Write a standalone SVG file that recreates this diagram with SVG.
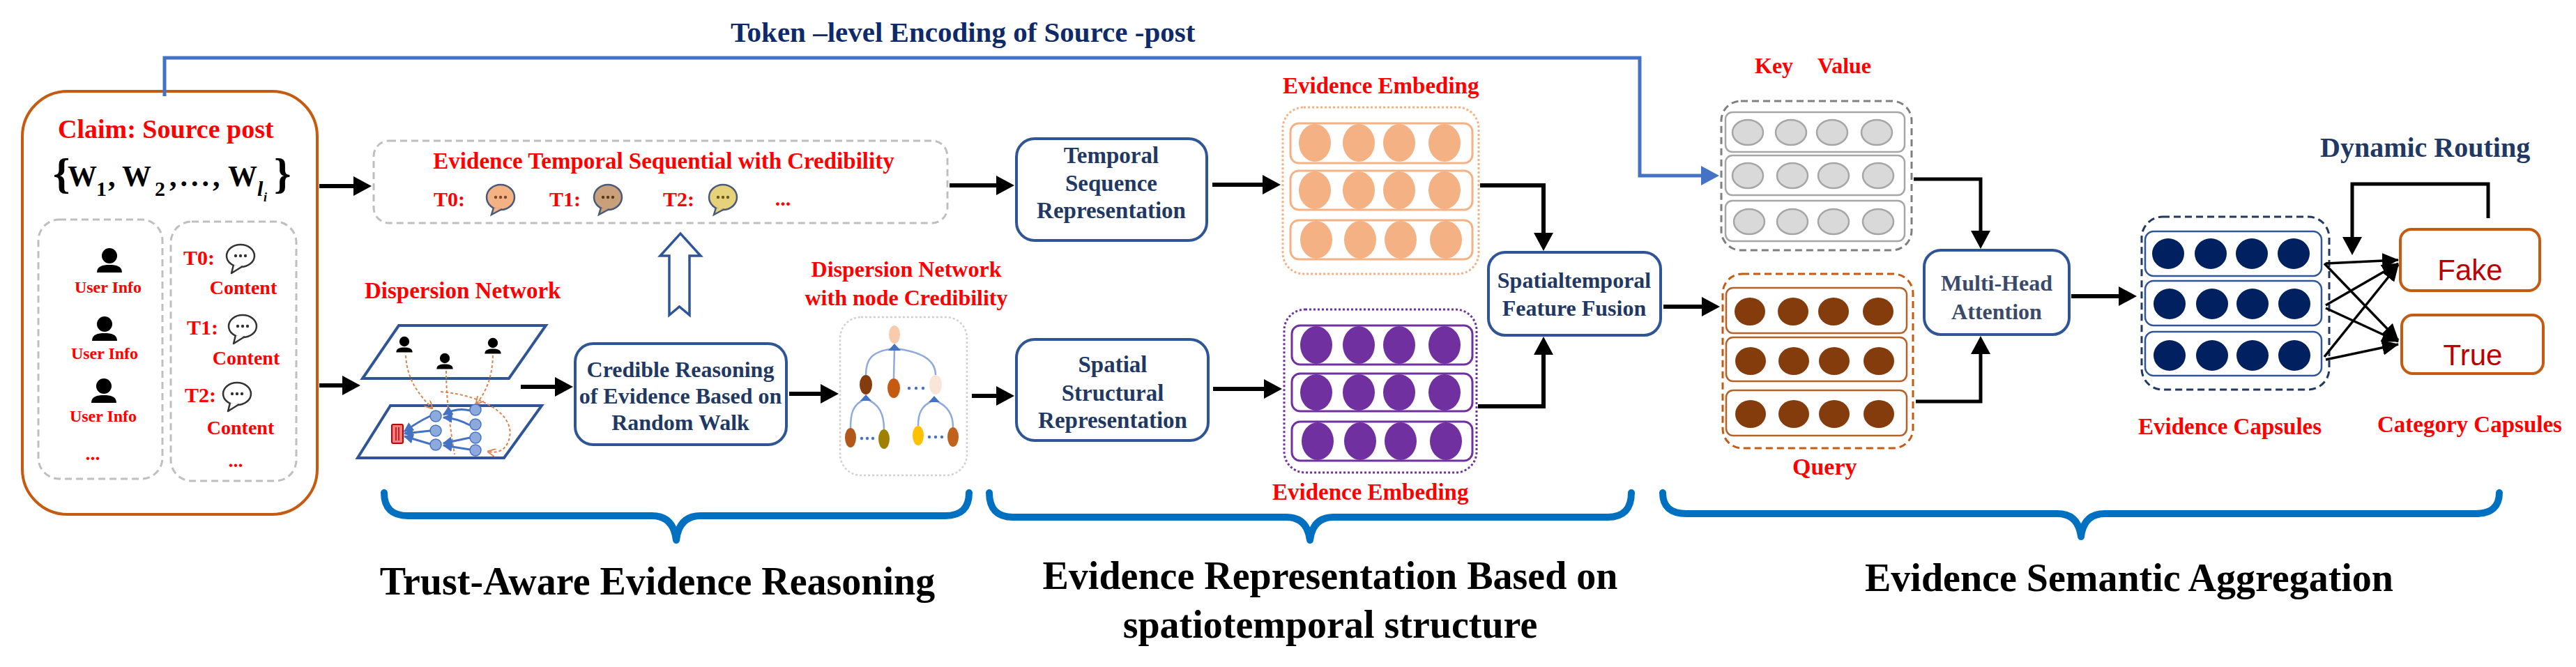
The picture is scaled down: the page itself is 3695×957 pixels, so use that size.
<svg xmlns="http://www.w3.org/2000/svg" width="3695" height="957" viewBox="0 0 3695 957">
<style>
text{font-family:"Liberation Serif","Times New Roman",serif;font-weight:bold}
.red{fill:#ff0000}
.nav{fill:#1f3864}
.blk{fill:#000}
.ttl{font-size:56px;fill:#000}
.bbox{fill:#fff;stroke:#2f5597;stroke-width:4}
.gdash{fill:none;stroke:#bfbfbf;stroke-width:3;stroke-dasharray:10 6}
.conn{fill:none;stroke:#000;stroke-width:6}
.thin{fill:none;stroke:#000;stroke-width:3.5}
.brace{fill:none;stroke:#0070c0;stroke-width:10;stroke-linecap:round;stroke-linejoin:round}
.orow{fill:none;stroke:#f4b183;stroke-width:3}
.prow{fill:none;stroke:#7030a0;stroke-width:3}
.grow{fill:none;stroke:#a6a6a6;stroke-width:2.5}
.qrow{fill:none;stroke:#b4622a;stroke-width:2.5}
.crow{fill:none;stroke:#2f5597;stroke-width:2.5}
.odash{fill:none;stroke:#d9844e;stroke-width:2;stroke-dasharray:4 3}
.barr{fill:none;stroke:#4472c4;stroke-width:3}
.tedge{fill:none;stroke:#8faadc;stroke-width:2.5}
</style>
<defs>
<marker id="ah" viewBox="0 0 26 28" refX="1" refY="14" markerWidth="26" markerHeight="28" markerUnits="userSpaceOnUse" orient="auto"><path d="M0,0 L26,14 L0,28 Z" fill="#000"/></marker>
<marker id="ahb" viewBox="0 0 26 28" refX="1" refY="14" markerWidth="26" markerHeight="28" markerUnits="userSpaceOnUse" orient="auto"><path d="M0,0 L26,14 L0,28 Z" fill="#4472c4"/></marker>
<marker id="ahs" viewBox="0 0 24 22" refX="23" refY="11" markerWidth="24" markerHeight="22" markerUnits="userSpaceOnUse" orient="auto"><path d="M0,0 L24,11 L0,22 Z" fill="#000"/></marker>
<marker id="oah" viewBox="0 0 10 10" refX="9" refY="5" markerWidth="12" markerHeight="12" markerUnits="userSpaceOnUse" orient="auto"><path d="M0,0 L10,5 L0,10" fill="none" stroke="#d9844e" stroke-width="1.5"/></marker>
<marker id="bah" viewBox="0 0 10 10" refX="9" refY="5" markerWidth="14" markerHeight="14" markerUnits="userSpaceOnUse" orient="auto"><path d="M0,0 L10,5 L0,10 Z" fill="#4472c4"/></marker>
<g id="user"><circle cx="0" cy="0" r="11" fill="#000"/><path d="M-18,24 C-18,15 -10,13 0,13 C10,13 18,15 18,24 Z" fill="#000"/></g>
<g id="bub"><ellipse cx="0" cy="0" rx="20" ry="16" fill="#fff" stroke="#333" stroke-width="2.5"/><path d="M-10,13 L-13,25 L3,15" fill="#fff" stroke="#333" stroke-width="2.5" stroke-linejoin="round"/><circle cx="-7" cy="0" r="2.2" fill="#333"/><circle cx="0" cy="0" r="2.2" fill="#333"/><circle cx="7" cy="0" r="2.2" fill="#333"/></g>
</defs>
<rect width="3695" height="957" fill="#fff"/>

<!-- Source post -->
<g id="source-post">
<rect x="32" y="131" width="423" height="607" rx="65" fill="#fff" stroke="#c55a11" stroke-width="4"/>
<text x="83" y="198" font-size="38" class="red">Claim: Source post</text>
<g class="blk">
<text x="76" y="270" font-size="62" font-weight="normal">{</text>
<text x="97" y="267" font-size="42">W</text>
<text x="138" y="281" font-size="30" font-weight="normal">1</text>
<text x="155" y="267" font-size="42">,</text>
<text x="175" y="267" font-size="42">W</text>
<text x="222" y="281" font-size="30" font-weight="normal">2</text>
<text x="243" y="267" font-size="42" letter-spacing="5">,...,</text>
<text x="327" y="267" font-size="42">W</text>
<text x="369" y="281" font-size="30" font-weight="normal" font-style="italic">l</text>
<text x="378" y="289" font-size="18" font-weight="normal" font-style="italic">i</text>
<text x="393" y="270" font-size="62" font-weight="normal">}</text>
</g>
<rect x="55" y="315" width="178" height="372" rx="30" class="gdash"/>
<rect x="245" y="318" width="180" height="372" rx="30" class="gdash"/>
<use href="#user" x="157" y="367"/>
<text x="155" y="420" font-size="24" class="red" text-anchor="middle">User Info</text>
<use href="#user" x="150" y="465"/>
<text x="150" y="515" font-size="24" class="red" text-anchor="middle">User Info</text>
<use href="#user" x="149" y="554"/>
<text x="148" y="605" font-size="24" class="red" text-anchor="middle">User Info</text>
<text x="133" y="660" font-size="28" class="red" text-anchor="middle">...</text>
<text x="263" y="380" font-size="30" class="red">T0:</text>
<use href="#bub" x="345" y="367"/>
<text x="349" y="422" font-size="28" class="red" text-anchor="middle">Content</text>
<text x="268" y="480" font-size="30" class="red">T1:</text>
<use href="#bub" x="348" y="468"/>
<text x="353" y="523" font-size="28" class="red" text-anchor="middle">Content</text>
<text x="265" y="577" font-size="30" class="red">T2:</text>
<use href="#bub" x="340" y="565"/>
<text x="345" y="623" font-size="28" class="red" text-anchor="middle">Content</text>
<text x="338" y="670" font-size="28" class="red" text-anchor="middle">...</text>
</g>

<text x="1048" y="60" font-size="41" fill="#0e2a6b">Token –level Encoding of Source -post</text>

<!-- Evidence temporal sequential -->
<g id="evidence-temporal">
<rect x="536" y="202" width="823" height="118" rx="22" class="gdash"/>
<text x="952" y="242" font-size="33" class="red" text-anchor="middle">Evidence Temporal Sequential with Credibility</text>
<text x="622" y="296" font-size="30" class="red">T0:</text>
<g transform="translate(718,283)"><ellipse rx="20" ry="18" fill="#f4b183" stroke="#4a5a7a" stroke-width="2.5"/><path d="M-10,15 L-13,25 L2,17" fill="#f4b183" stroke="#4a5a7a" stroke-width="2.5"/><circle cx="-7" r="2.2" fill="#7a4a2a"/><circle r="2.2" fill="#7a4a2a"/><circle cx="7" r="2.2" fill="#7a4a2a"/></g>
<text x="788" y="296" font-size="30" class="red">T1:</text>
<g transform="translate(872,283)"><ellipse rx="20" ry="18" fill="#c9a07a" stroke="#4a5a7a" stroke-width="2.5"/><path d="M-10,15 L-13,25 L2,17" fill="#c9a07a" stroke="#4a5a7a" stroke-width="2.5"/><circle cx="-7" r="2.2" fill="#5a3a1a"/><circle r="2.2" fill="#5a3a1a"/><circle cx="7" r="2.2" fill="#5a3a1a"/></g>
<text x="951" y="296" font-size="30" class="red">T2:</text>
<g transform="translate(1037,283)"><ellipse rx="20" ry="18" fill="#e6d27a" stroke="#4a5a7a" stroke-width="2.5"/><path d="M-10,15 L-13,25 L2,17" fill="#e6d27a" stroke="#4a5a7a" stroke-width="2.5"/><circle cx="-7" r="2.2" fill="#6a5a1a"/><circle r="2.2" fill="#6a5a1a"/><circle cx="7" r="2.2" fill="#6a5a1a"/></g>
<text x="1123" y="295" font-size="30" class="red" text-anchor="middle">...</text>
</g>

<!-- Dispersion network -->
<g id="dispersion-network">
<text x="523" y="428" font-size="33" class="red">Dispersion Network</text>
<polygon points="572,467 783,467 730,543 520,543" fill="none" stroke="#2f5597" stroke-width="4"/>
<polygon points="560,582 777,582 723,657 513,657" fill="none" stroke="#2f5597" stroke-width="4"/>
<use href="#user" transform="translate(580,490) scale(0.65)"/>
<use href="#user" transform="translate(638,514) scale(0.65)"/>
<use href="#user" transform="translate(707,492) scale(0.65)"/>
<path d="M582,510 C584,545 600,565 620,586" class="odash" marker-end="url(#oah)"/>
<path d="M640,532 C640,570 645,610 652,652" class="odash"/>
<path d="M707,510 C706,545 695,565 683,580" class="odash" marker-end="url(#oah)"/>
<path d="M632,562 C700,568 745,600 728,636 C722,648 712,650 700,648" class="odash" marker-end="url(#oah)"/>
<path d="M674,589 Q655,584 636,595" class="barr" marker-end="url(#bah)"/>
<path d="M674,610 Q655,600 636,599" class="barr" marker-end="url(#bah)"/>
<path d="M674,628 Q655,632 636,636" class="barr" marker-end="url(#bah)"/>
<path d="M674,645 Q655,642 636,639" class="barr" marker-end="url(#bah)"/>
<path d="M617,597 Q600,605 580,619" class="barr" marker-end="url(#bah)"/>
<path d="M617,618 Q600,620 580,622" class="barr" marker-end="url(#bah)"/>
<path d="M617,637 Q600,632 580,626" class="barr" marker-end="url(#bah)"/>
<g fill="#8ea9db" stroke="#4472c4" stroke-width="1.5">
<circle cx="625" cy="597" r="8"/><circle cx="625" cy="618" r="8"/><circle cx="625" cy="638" r="8"/>
<circle cx="682" cy="588" r="8"/><circle cx="682" cy="609" r="8"/><circle cx="682" cy="628" r="8"/><circle cx="682" cy="646" r="8"/>
</g>
<rect x="562" y="609" width="16" height="27" rx="2" fill="#f08080" stroke="#c00000" stroke-width="2"/>
<line x1="568" y1="613" x2="568" y2="632" stroke="#c00000" stroke-width="1.5"/><line x1="572" y1="613" x2="572" y2="632" stroke="#c00000" stroke-width="1.5"/>
</g>

<!-- Credible reasoning -->
<g id="credible-reasoning">
<rect x="825" y="493" width="303" height="145" rx="26" class="bbox"/>
<text x="976" y="541" font-size="32" class="nav" text-anchor="middle">Credible Reasoning</text>
<text x="976" y="579" font-size="32" class="nav" text-anchor="middle">of Evidence Based on</text>
<text x="976" y="617" font-size="32" class="nav" text-anchor="middle">Random Walk</text>
</g>

<!-- Credibility tree -->
<g id="credibility-network">
<text x="1300" y="397" font-size="32" class="red" text-anchor="middle">Dispersion Network</text>
<text x="1300" y="438" font-size="32" class="red" text-anchor="middle">with node Credibility</text>
<rect x="1205" y="455" width="182" height="227" rx="30" fill="none" stroke="#d0d0d0" stroke-width="2.5" stroke-dasharray="3 3"/>
<path d="M1283,500 C1250,504 1242,515 1242,538" class="tedge"/>
<path d="M1283,500 L1282,543" class="tedge"/>
<path d="M1283,500 C1320,504 1342,515 1342,538" class="tedge"/>
<path d="M1242,572 C1222,580 1220,595 1220,614" class="tedge"/>
<path d="M1242,572 C1262,580 1268,595 1268,616" class="tedge"/>
<path d="M1340,574 C1320,582 1317,595 1317,611" class="tedge"/>
<path d="M1340,574 C1360,582 1367,595 1367,613" class="tedge"/>
<g fill="#4472c4">
<polygon points="1274,503 1292,503 1283,493"/>
<polygon points="1234,575 1250,575 1242,566"/>
<polygon points="1332,577 1348,577 1340,568"/>
<circle cx="1304" cy="557" r="2.2"/><circle cx="1314" cy="557" r="2.2"/><circle cx="1324" cy="557" r="2.2"/>
<circle cx="1236" cy="629" r="2.2"/><circle cx="1244" cy="629" r="2.2"/><circle cx="1252" cy="629" r="2.2"/>
<circle cx="1333" cy="627" r="2.2"/><circle cx="1342" cy="627" r="2.2"/><circle cx="1351" cy="627" r="2.2"/>
</g>
<ellipse cx="1283" cy="480" rx="8" ry="13" fill="#f8cbad"/>
<ellipse cx="1242" cy="552" rx="9" ry="14" fill="#843c0c"/>
<ellipse cx="1282" cy="557" rx="9" ry="14" fill="#c55a11"/>
<ellipse cx="1342" cy="552" rx="9" ry="14" fill="#fbe5d6"/>
<ellipse cx="1220" cy="628" rx="8" ry="14" fill="#b3581b"/>
<ellipse cx="1268" cy="630" rx="8" ry="14" fill="#a08000"/>
<ellipse cx="1317" cy="625" rx="8" ry="14" fill="#ffc000"/>
<ellipse cx="1367" cy="627" rx="8" ry="14" fill="#c0621c"/>
</g>

<!-- Representation boxes -->
<g id="temporal-representation">
<rect x="1458" y="199" width="273" height="146" rx="26" class="bbox"/>
<text x="1594" y="234" font-size="33" class="nav" text-anchor="middle">Temporal</text>
<text x="1594" y="274" font-size="33" class="nav" text-anchor="middle">Sequence</text>
<text x="1594" y="313" font-size="33" class="nav" text-anchor="middle">Representation</text>
</g>
<g id="spatial-representation">
<rect x="1458" y="487" width="275" height="145" rx="26" class="bbox"/>
<text x="1596" y="534" font-size="33" class="nav" text-anchor="middle">Spatial</text>
<text x="1596" y="575" font-size="33" class="nav" text-anchor="middle">Structural</text>
<text x="1596" y="614" font-size="33" class="nav" text-anchor="middle">Representation</text>
</g>

<!-- Evidence embeddings -->
<g id="temporal-embedding">
<text x="1840" y="134" font-size="33" class="red">Evidence Embeding</text>
<rect x="1840" y="154" width="281" height="239" rx="30" fill="none" stroke="#f4b183" stroke-width="3" stroke-dasharray="3 3"/>
<rect x="1851" y="177" width="261" height="57" rx="12" class="orow"/>
<rect x="1851" y="245" width="261" height="56" rx="12" class="orow"/>
<rect x="1851" y="316" width="261" height="56" rx="12" class="orow"/>
<g fill="#f4b183">
<ellipse cx="1886" cy="205" rx="23" ry="27"/><ellipse cx="1949" cy="205" rx="23" ry="27"/><ellipse cx="2007" cy="205" rx="23" ry="27"/><ellipse cx="2072" cy="205" rx="23" ry="27"/>
<ellipse cx="1886" cy="273" rx="23" ry="27"/><ellipse cx="1949" cy="273" rx="23" ry="27"/><ellipse cx="2007" cy="273" rx="23" ry="27"/><ellipse cx="2072" cy="273" rx="23" ry="27"/>
<ellipse cx="1888" cy="344" rx="23" ry="27"/><ellipse cx="1951" cy="344" rx="23" ry="27"/><ellipse cx="2009" cy="344" rx="23" ry="27"/><ellipse cx="2074" cy="344" rx="23" ry="27"/>
</g>
</g>
<g id="spatial-embedding">
<rect x="1842" y="444" width="276" height="234" rx="30" fill="none" stroke="#7030a0" stroke-width="3" stroke-dasharray="3 3"/>
<rect x="1853" y="467" width="259" height="56" rx="12" class="prow"/>
<rect x="1853" y="536" width="259" height="54" rx="12" class="prow"/>
<rect x="1853" y="605" width="259" height="56" rx="12" class="prow"/>
<g fill="#7030a0">
<ellipse cx="1888" cy="495" rx="23" ry="27"/><ellipse cx="1949" cy="495" rx="23" ry="27"/><ellipse cx="2007" cy="495" rx="23" ry="27"/><ellipse cx="2072" cy="495" rx="23" ry="27"/>
<ellipse cx="1888" cy="563" rx="23" ry="26"/><ellipse cx="1949" cy="563" rx="23" ry="26"/><ellipse cx="2007" cy="563" rx="23" ry="26"/><ellipse cx="2072" cy="563" rx="23" ry="26"/>
<ellipse cx="1890" cy="633" rx="23" ry="27"/><ellipse cx="1951" cy="633" rx="23" ry="27"/><ellipse cx="2009" cy="633" rx="23" ry="27"/><ellipse cx="2074" cy="633" rx="23" ry="27"/>
</g>
<text x="1825" y="717" font-size="33" class="red">Evidence Embeding</text>
</g>

<!-- Fusion -->
<g id="feature-fusion">
<rect x="2135" y="362" width="247" height="119" rx="24" class="bbox"/>
<text x="2258" y="413" font-size="32" class="nav" text-anchor="middle">Spatialtemporal</text>
<text x="2258" y="453" font-size="32" class="nav" text-anchor="middle">Feature Fusion</text>
</g>

<!-- Key / Value -->
<g id="key-value">
<text x="2517" y="105" font-size="32" class="red">Key</text>
<text x="2607" y="105" font-size="32" class="red">Value</text>
<rect x="2469" y="145" width="273" height="214" rx="28" fill="none" stroke="#7f7f7f" stroke-width="3" stroke-dasharray="10 6"/>
<rect x="2475" y="161" width="257" height="57" rx="10" class="grow"/>
<rect x="2475" y="223" width="257" height="57" rx="10" class="grow"/>
<rect x="2475" y="288" width="257" height="58" rx="10" class="grow"/>
<g fill="#d9d9d9" stroke="#a6a6a6" stroke-width="2.5">
<ellipse cx="2507" cy="190" rx="22" ry="18"/><ellipse cx="2569" cy="190" rx="22" ry="18"/><ellipse cx="2628" cy="190" rx="22" ry="18"/><ellipse cx="2692" cy="190" rx="22" ry="18"/>
<ellipse cx="2507" cy="252" rx="22" ry="18"/><ellipse cx="2571" cy="252" rx="22" ry="18"/><ellipse cx="2630" cy="252" rx="22" ry="18"/><ellipse cx="2694" cy="252" rx="22" ry="18"/>
<ellipse cx="2509" cy="318" rx="22" ry="18"/><ellipse cx="2571" cy="318" rx="22" ry="18"/><ellipse cx="2630" cy="318" rx="22" ry="18"/><ellipse cx="2694" cy="318" rx="22" ry="18"/>
</g>
</g>

<!-- Query -->
<g id="query">
<rect x="2471" y="393" width="273" height="250" rx="28" fill="none" stroke="#c55a11" stroke-width="3" stroke-dasharray="10 6"/>
<rect x="2476" y="413" width="259" height="65" rx="10" class="qrow"/>
<rect x="2476" y="484" width="259" height="63" rx="10" class="qrow"/>
<rect x="2476" y="560" width="259" height="65" rx="10" class="qrow"/>
<g fill="#843c0c">
<ellipse cx="2510" cy="447" rx="22" ry="20"/><ellipse cx="2572" cy="447" rx="22" ry="20"/><ellipse cx="2630" cy="447" rx="22" ry="20"/><ellipse cx="2694" cy="447" rx="22" ry="20"/>
<ellipse cx="2511" cy="518" rx="22" ry="20"/><ellipse cx="2573" cy="518" rx="22" ry="20"/><ellipse cx="2631" cy="518" rx="22" ry="20"/><ellipse cx="2695" cy="518" rx="22" ry="20"/>
<ellipse cx="2511" cy="594" rx="22" ry="20"/><ellipse cx="2573" cy="594" rx="22" ry="20"/><ellipse cx="2631" cy="594" rx="22" ry="20"/><ellipse cx="2695" cy="594" rx="22" ry="20"/>
</g>
<text x="2571" y="681" font-size="34" class="red">Query</text>
</g>

<!-- Multi-head attention -->
<g id="multi-head-attention">
<rect x="2760" y="359" width="208" height="121" rx="24" class="bbox"/>
<text x="2864" y="417" font-size="32" fill="#3b4a6b" text-anchor="middle">Multi-Head</text>
<text x="2864" y="458" font-size="32" fill="#3b4a6b" text-anchor="middle">Attention</text>
</g>

<!-- Evidence capsules -->
<g id="evidence-capsules">
<rect x="3072" y="311" width="269" height="248" rx="30" fill="none" stroke="#1f3864" stroke-width="3" stroke-dasharray="10 6"/>
<rect x="3077" y="332" width="253" height="64" rx="12" class="crow"/>
<rect x="3077" y="403" width="253" height="64" rx="12" class="crow"/>
<rect x="3077" y="476" width="253" height="63" rx="12" class="crow"/>
<g fill="#002060">
<ellipse cx="3110" cy="364" rx="23" ry="22"/><ellipse cx="3171" cy="364" rx="23" ry="22"/><ellipse cx="3230" cy="364" rx="23" ry="22"/><ellipse cx="3290" cy="364" rx="23" ry="22"/>
<ellipse cx="3112" cy="436" rx="23" ry="22"/><ellipse cx="3173" cy="436" rx="23" ry="22"/><ellipse cx="3231" cy="436" rx="23" ry="22"/><ellipse cx="3291" cy="436" rx="23" ry="22"/>
<ellipse cx="3112" cy="510" rx="23" ry="22"/><ellipse cx="3173" cy="510" rx="23" ry="22"/><ellipse cx="3231" cy="510" rx="23" ry="22"/><ellipse cx="3291" cy="510" rx="23" ry="22"/>
</g>
<text x="3067" y="623" font-size="33" class="red">Evidence Capsules</text>
</g>

<!-- Category capsules -->
<g id="fake">
<rect x="3443" y="329" width="200" height="88" rx="16" fill="#fff" stroke="#c55a11" stroke-width="4"/>
<text x="3543" y="402" font-size="42" fill="#c00000" text-anchor="middle" style="font-family:'Liberation Sans',Arial,sans-serif;font-weight:normal">Fake</text>
</g>
<g id="true">
<rect x="3445" y="452" width="203" height="84" rx="16" fill="#fff" stroke="#c55a11" stroke-width="4"/>
<text x="3547" y="524" font-size="42" fill="#c00000" text-anchor="middle" style="font-family:'Liberation Sans',Arial,sans-serif;font-weight:normal">True</text>
</g>
<text x="3410" y="620" font-size="33" class="red">Category Capsules</text>
<text x="3328" y="225" font-size="40" class="nav">Dynamic Routing</text>

<!-- Connectors -->
<g id="connectors">
<path d="M458,267 H508" class="conn" marker-end="url(#ah)"/>
<path d="M458,553 H492" class="conn" marker-end="url(#ah)"/>
<path d="M747,555 H797" class="conn" marker-end="url(#ah)"/>
<path d="M1132,565 H1178" class="conn" marker-end="url(#ah)"/>
<path d="M1362,266 H1430" class="conn" marker-end="url(#ah)"/>
<path d="M1394,568 H1430" class="conn" marker-end="url(#ah)"/>
<path d="M1739,265 H1812" class="conn" marker-end="url(#ah)"/>
<path d="M1740,558 H1814" class="conn" marker-end="url(#ah)"/>
<path d="M2123,266 H2214 V335" class="conn" marker-end="url(#ah)"/>
<path d="M2120,583 H2214 V508" class="conn" marker-end="url(#ah)"/>
<path d="M2386,440 H2442" class="conn" marker-end="url(#ah)"/>
<path d="M236,138 V83 H2352 V252 H2441" fill="none" stroke="#4472c4" stroke-width="5" marker-end="url(#ahb)"/>
<path d="M2745,257 H2841 V332" fill="none" stroke="#000" stroke-width="5" marker-end="url(#ah)"/>
<path d="M2748,576 H2841 V507" fill="none" stroke="#000" stroke-width="5" marker-end="url(#ah)"/>
<path d="M2971,425 H3040" class="conn" marker-end="url(#ah)"/>
<path d="M3569,313 V264 H3374 V341" fill="none" stroke="#000" stroke-width="5" marker-end="url(#ah)"/>
<path d="M960,452 L960,367 L947,367 L976,335 L1005,367 L989,367 L989,452 L974.5,440 Z" fill="#fff" stroke="#2f5597" stroke-width="3.5" stroke-linejoin="miter"/>
<line x1="3336" y1="378" x2="3440" y2="373" class="thin" marker-end="url(#ahs)"/>
<line x1="3334" y1="378" x2="3440" y2="488" class="thin" marker-end="url(#ahs)"/>
<line x1="3336" y1="438" x2="3440" y2="378" class="thin" marker-end="url(#ahs)"/>
<line x1="3336" y1="442" x2="3440" y2="490" class="thin" marker-end="url(#ahs)"/>
<line x1="3334" y1="512" x2="3440" y2="380" class="thin" marker-end="url(#ahs)"/>
<line x1="3336" y1="516" x2="3440" y2="494" class="thin" marker-end="url(#ahs)"/>
</g>

<!-- Section braces and titles -->
<g id="section-trust">
<path d="M551,707 Q551,740 585,740 L935,740 Q966,740 970,775 Q974,740 1005,740 L1356,740 Q1390,740 1390,707" class="brace"/>
<text x="943" y="853" class="ttl" text-anchor="middle">Trust-Aware Evidence Reasoning</text>
</g>
<g id="section-representation">
<path d="M1419,707 Q1419,742 1453,742 L1845,742 Q1875,742 1879,775 Q1883,742 1913,742 L2306,742 Q2340,742 2340,707" class="brace"/>
<text x="1908" y="845" class="ttl" text-anchor="middle">Evidence Representation Based on</text>
<text x="1908" y="915" class="ttl" text-anchor="middle">spatiotemporal structure</text>
</g>
<g id="section-aggregation">
<path d="M2385,707 Q2385,737 2419,737 L2951,737 Q2981,737 2985,770 Q2989,737 3019,737 L3551,737 Q3585,737 3585,707" class="brace"/>
<text x="3054" y="848" class="ttl" text-anchor="middle">Evidence Semantic Aggregation</text>
</g>
</svg>
